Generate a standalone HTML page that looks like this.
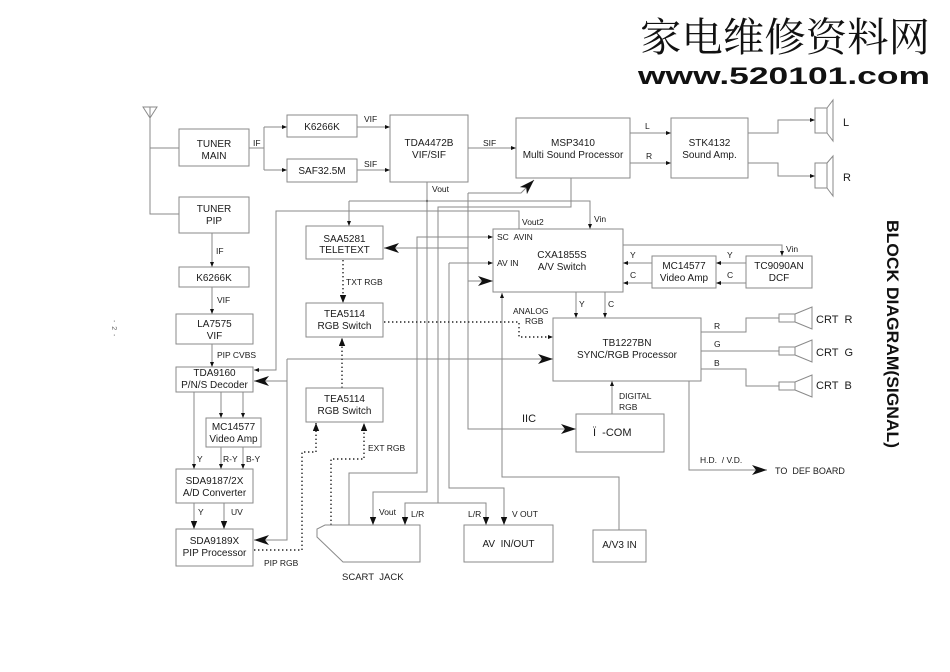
<!DOCTYPE html>
<html><head><meta charset="utf-8"><style>
html,body{margin:0;padding:0;background:#fff;}
svg{display:block;}
text{font-family:"Liberation Sans",Arial,sans-serif;fill:#1a1a1a;}
.b{font-size:10px;text-anchor:middle;}
.l{font-size:8.5px;}
.ln{fill:none;stroke:#8a8a8a;stroke-width:1;}
.bx{fill:#fff;stroke:#8a8a8a;stroke-width:1;}
.dt{fill:none;stroke:#222;stroke-width:1.4;stroke-dasharray:1.4,2.6;}
</style></head><body>
<svg width="950" height="672" viewBox="0 0 950 672" xmlns="http://www.w3.org/2000/svg" xml:space="preserve">
<defs>
<marker id="s" viewBox="0 0 10 8" refX="10" refY="4" markerWidth="5" markerHeight="4" orient="auto" markerUnits="userSpaceOnUse"><path d="M0,0 L10,4 L0,8Z" fill="#111"/></marker>
<marker id="m" viewBox="0 0 10 8" refX="10" refY="4" markerWidth="8" markerHeight="6.5" orient="auto" markerUnits="userSpaceOnUse"><path d="M0,0 L10,4 L0,8Z" fill="#111"/></marker>
<marker id="bg" viewBox="0 0 15 10" refX="15" refY="5" markerWidth="15" markerHeight="10" orient="auto" markerUnits="userSpaceOnUse"><path d="M0,0 L15,5 L0,10 L4,5Z" fill="#111"/></marker>
</defs>
<rect width="950" height="672" fill="#fff"/>

<!-- watermark -->
<text x="640" y="51" font-size="40" textLength="290" lengthAdjust="spacingAndGlyphs" style="font-family:'Noto Serif CJK SC','Noto Sans CJK SC',serif;fill:#111">家电维修资料网</text>
<text x="638" y="84" font-size="24" font-weight="bold" textLength="292" lengthAdjust="spacingAndGlyphs" style="fill:#111">www.520101.com</text>

<!-- side titles -->
<text transform="translate(887,220) rotate(90)" font-size="16.5" font-weight="bold" textLength="228" lengthAdjust="spacingAndGlyphs" style="fill:#111">BLOCK DIAGRAM(SIGNAL)</text>
<text transform="translate(112,320) rotate(90)" font-size="7" style="fill:#666">-&#160;&#160;2&#160;&#160;-</text>

<!-- antenna -->
<path class="ln" d="M143,107 L157,107 L150,118 Z M150,107 V214 H179 M150,148 H179"/>

<!-- connectors -->
<path class="ln" d="M249,148 H264 M264,127 V170"/>
<path class="ln" d="M264,127 H287" marker-end="url(#s)"/>
<path class="ln" d="M264,170 H287" marker-end="url(#s)"/>
<path class="ln" d="M357,127 H390" marker-end="url(#s)"/>
<path class="ln" d="M357,170 H390" marker-end="url(#s)"/>
<path class="ln" d="M468,148 H516" marker-end="url(#s)"/>
<path class="ln" d="M630,133 H671" marker-end="url(#s)"/>
<path class="ln" d="M630,163 H671" marker-end="url(#s)"/>
<path class="ln" d="M748,133 H778 V120 H815" marker-end="url(#s)"/>
<path class="ln" d="M748,163 H778 V176 H815" marker-end="url(#s)"/>

<path class="ln" d="M212,233 V267" marker-end="url(#s)"/>
<path class="ln" d="M212,287 V314" marker-end="url(#s)"/>
<path class="ln" d="M212,344 V367" marker-end="url(#s)"/>

<!-- Vout from TDA4472B -->
<path class="ln" d="M427,182 V492 H373 V525" marker-end="url(#m)"/>
<circle cx="427" cy="201" r="1.2" fill="#555"/>
<path class="ln" d="M349,201 H590 V229" marker-end="url(#s)"/>
<path class="ln" d="M349,201 V226" marker-end="url(#s)"/>

<!-- MSP audio out L/R -->
<path class="ln" d="M571,178 V207 H438 V503 H405 V525" marker-end="url(#m)"/>
<path class="ln" d="M438,503 H486 V525" marker-end="url(#m)"/>

<!-- Vout2 -->
<path class="ln" d="M519,229 V211 H276 V370 H254" marker-end="url(#s)"/>

<!-- IIC bus x=468 -->
<path class="ln" d="M468,193 H521 L534,180" marker-end="url(#bg)"/>
<path class="ln" d="M468,193 V429 H576" marker-end="url(#bg)"/>
<path class="ln" d="M468,281 H493" marker-end="url(#bg)"/>
<path class="ln" d="M468,248 H384" marker-end="url(#bg)"/>

<!-- SC AVIN from scart -->
<path class="ln" d="M349,525 V473 H417 V237 H493" marker-end="url(#s)"/>
<!-- AV IN / V OUT -->
<path class="ln" d="M449,263 H493" marker-end="url(#s)"/>
<path class="ln" d="M449,263 V488 H504 V525" marker-end="url(#m)"/>
<!-- A/V3 IN -->
<path class="ln" d="M619,530 V477 H502 V293" marker-end="url(#s)"/>

<!-- x=287 bus -->
<path class="ln" d="M287,359 H553" marker-end="url(#bg)"/>
<path class="ln" d="M287,359 V540 H254" marker-end="url(#bg)"/>
<path class="ln" d="M287,381 H254" marker-end="url(#bg)"/>

<!-- PIP chain -->
<path class="ln" d="M194,392 V469" marker-end="url(#s)"/>
<path class="ln" d="M221,392 V418" marker-end="url(#s)"/>
<path class="ln" d="M243,392 V418" marker-end="url(#s)"/>
<path class="ln" d="M221,447 V469" marker-end="url(#s)"/>
<path class="ln" d="M243,447 V469" marker-end="url(#s)"/>
<path class="ln" d="M194,503 V529" marker-end="url(#m)"/>
<path class="ln" d="M224,503 V529" marker-end="url(#m)"/>

<!-- CXA to TB -->
<path class="ln" d="M576,292 V318" marker-end="url(#s)"/>
<path class="ln" d="M605,292 V318" marker-end="url(#s)"/>
<path class="ln" d="M652,263 H623" marker-end="url(#s)"/>
<path class="ln" d="M746,263 H716" marker-end="url(#s)"/>
<path class="ln" d="M652,283 H623" marker-end="url(#s)"/>
<path class="ln" d="M746,283 H716" marker-end="url(#s)"/>
<path class="ln" d="M623,245 H782 V256" marker-end="url(#s)"/>

<!-- TB outputs -->
<path class="ln" d="M701,332 H746 V318 H779 M701,351 H779 M701,369 H746 V386 H779"/>
<path class="ln" d="M612,414 V381" marker-end="url(#s)"/>
<path class="ln" d="M689,381 V470 H767" marker-end="url(#bg)"/>

<!-- dotted RGB lines -->
<path class="dt" d="M343,260 V303" marker-end="url(#m)"/>
<path class="dt" d="M342,388 V338" marker-end="url(#m)"/>
<path class="dt" d="M384,322 H519 V337 H553" marker-end="url(#s)"/>
<path class="dt" d="M254,550 H302 V452 H316 V423" marker-end="url(#m)"/>
<path class="dt" d="M331,525 V459 H364 V423" marker-end="url(#m)"/>

<!-- speakers -->
<path class="bx" d="M815,108 H827 V133 H815 Z M827,108 L833,100 V141 L827,133"/>
<path class="bx" d="M815,163 H827 V188 H815 Z M827,163 L833,156 V196 L827,188"/>
<!-- CRTs -->
<path class="bx" d="M779,314 H795 V322 H779 Z M795,314 L812,307 V329 L795,322"/>
<path class="bx" d="M779,347 H795 V355 H779 Z M795,347 L812,340 V362 L795,355"/>
<path class="bx" d="M779,382 H795 V390 H779 Z M795,382 L812,375 V397 L795,390"/>

<!-- boxes -->
<rect class="bx" x="179" y="129" width="70" height="37"/>
<rect class="bx" x="287" y="115" width="70" height="22"/>
<rect class="bx" x="287" y="159" width="70" height="23"/>
<rect class="bx" x="390" y="115" width="78" height="67"/>
<rect class="bx" x="516" y="118" width="114" height="60"/>
<rect class="bx" x="671" y="118" width="77" height="60"/>
<rect class="bx" x="179" y="197" width="70" height="36"/>
<rect class="bx" x="179" y="267" width="70" height="20"/>
<rect class="bx" x="176" y="314" width="77" height="30"/>
<rect class="bx" x="176" y="367" width="77" height="25"/>
<rect class="bx" x="206" y="418" width="55" height="29"/>
<rect class="bx" x="176" y="469" width="77" height="34"/>
<rect class="bx" x="176" y="529" width="77" height="37"/>
<rect class="bx" x="306" y="226" width="77" height="33"/>
<rect class="bx" x="306" y="303" width="77" height="34"/>
<rect class="bx" x="306" y="388" width="77" height="34"/>
<rect class="bx" x="493" y="229" width="130" height="63"/>
<rect class="bx" x="652" y="256" width="64" height="32"/>
<rect class="bx" x="746" y="256" width="66" height="32"/>
<rect class="bx" x="553" y="318" width="148" height="63"/>
<rect class="bx" x="576" y="414" width="88" height="38"/>
<rect class="bx" x="464" y="525" width="89" height="37"/>
<rect class="bx" x="593" y="530" width="53" height="32"/>
<path class="bx" d="M325,525 H420 V562 H343 L317,537 V529 Z"/>

<!-- box texts -->
<text class="b" x="214" y="147">TUNER</text>
<text class="b" x="214" y="159">MAIN</text>
<text class="b" x="322" y="130">K6266K</text>
<text class="b" x="322" y="174">SAF32.5M</text>
<text class="b" x="429" y="146">TDA4472B</text>
<text class="b" x="429" y="158">VIF/SIF</text>
<text class="b" x="573" y="146">MSP3410</text>
<text class="b" x="573" y="158">Multi Sound Processor</text>
<text class="b" x="709.5" y="146">STK4132</text>
<text class="b" x="709.5" y="158">Sound Amp.</text>
<text class="b" x="214" y="212">TUNER</text>
<text class="b" x="214" y="224">PIP</text>
<text class="b" x="214" y="281">K6266K</text>
<text class="b" x="214.5" y="327">LA7575</text>
<text class="b" x="214.5" y="339">VIF</text>
<text class="b" x="214.5" y="376">TDA9160</text>
<text class="b" x="214.5" y="388">P/N/S Decoder</text>
<text class="b" x="233.5" y="430">MC14577</text>
<text class="b" x="233.5" y="442">Video Amp</text>
<text class="b" x="214.5" y="484">SDA9187/2X</text>
<text class="b" x="214.5" y="496">A/D Converter</text>
<text class="b" x="214.5" y="544">SDA9189X</text>
<text class="b" x="214.5" y="556">PIP Processor</text>
<text class="b" x="344.5" y="242">SAA5281</text>
<text class="b" x="344.5" y="253">TELETEXT</text>
<text class="b" x="344.5" y="317">TEA5114</text>
<text class="b" x="344.5" y="329">RGB Switch</text>
<text class="b" x="344.5" y="402">TEA5114</text>
<text class="b" x="344.5" y="414">RGB Switch</text>
<text class="b" x="562" y="258">CXA1855S</text>
<text class="b" x="562" y="270">A/V Switch</text>
<text class="b" x="684" y="269">MC14577</text>
<text class="b" x="684" y="281">Video Amp</text>
<text class="b" x="779" y="269">TC9090AN</text>
<text class="b" x="779" y="281">DCF</text>
<text class="b" x="627" y="346">TB1227BN</text>
<text class="b" x="627" y="358">SYNC/RGB Processor</text>
<text class="b" x="508.5" y="547">AV&#160;&#160;IN/OUT</text>
<text class="b" x="619.5" y="548">A/V3 IN</text>
<text x="593" y="436" font-size="11">Ï&#160;&#160;-COM</text>

<!-- labels -->
<text class="l" x="253" y="146">IF</text>
<text class="l" x="364" y="122">VIF</text>
<text class="l" x="364" y="167">SIF</text>
<text class="l" x="483" y="146">SIF</text>
<text class="l" x="432" y="192">Vout</text>
<text class="l" x="645" y="129">L</text>
<text class="l" x="646" y="159">R</text>
<text x="843" y="126" font-size="11">L</text>
<text x="843" y="181" font-size="11">R</text>
<text class="l" x="216" y="254">IF</text>
<text class="l" x="217" y="303">VIF</text>
<text class="l" x="217" y="358">PIP CVBS</text>
<text class="l" x="197" y="462">Y</text>
<text class="l" x="223" y="462">R-Y</text>
<text class="l" x="246" y="462">B-Y</text>
<text class="l" x="198" y="515">Y</text>
<text class="l" x="231" y="515">UV</text>
<text class="l" x="264" y="566">PIP RGB</text>
<text class="l" x="346" y="285">TXT RGB</text>
<text class="l" x="368" y="451">EXT RGB</text>
<text x="342" y="580" font-size="9.5">SCART&#160;&#160;JACK</text>
<text class="l" x="379" y="515">Vout</text>
<text class="l" x="411" y="517">L/R</text>
<text class="l" x="468" y="517">L/R</text>
<text class="l" x="512" y="517">V OUT</text>
<text class="l" x="522" y="225">Vout2</text>
<text class="l" x="594" y="222">Vin</text>
<text class="l" x="497" y="240">SC&#160;&#160;AVIN</text>
<text class="l" x="497" y="266">AV IN</text>
<text class="l" x="630" y="258">Y</text>
<text class="l" x="630" y="278">C</text>
<text class="l" x="727" y="258">Y</text>
<text class="l" x="727" y="278">C</text>
<text class="l" x="786" y="252">Vin</text>
<text class="l" x="513" y="314" font-size="8">ANALOG</text>
<text class="l" x="525" y="324" font-size="8">RGB</text>
<text class="l" x="579" y="307">Y</text>
<text class="l" x="608" y="307">C</text>
<text class="l" x="714" y="329">R</text>
<text class="l" x="714" y="347">G</text>
<text class="l" x="714" y="366">B</text>
<text x="816" y="323" font-size="11">CRT&#160;&#160;R</text>
<text x="816" y="356" font-size="11">CRT&#160;&#160;G</text>
<text x="816" y="389" font-size="11">CRT&#160;&#160;B</text>
<text class="l" x="619" y="399" font-size="8">DIGITAL</text>
<text class="l" x="619" y="410" font-size="8">RGB</text>
<text x="522" y="422" font-size="11">IIC</text>
<text class="l" x="700" y="463" font-size="8">H.D.&#160;&#160;/ V.D.</text>
<text x="775" y="474" font-size="9">TO&#160;&#160;DEF BOARD</text>
</svg>
</body></html>
